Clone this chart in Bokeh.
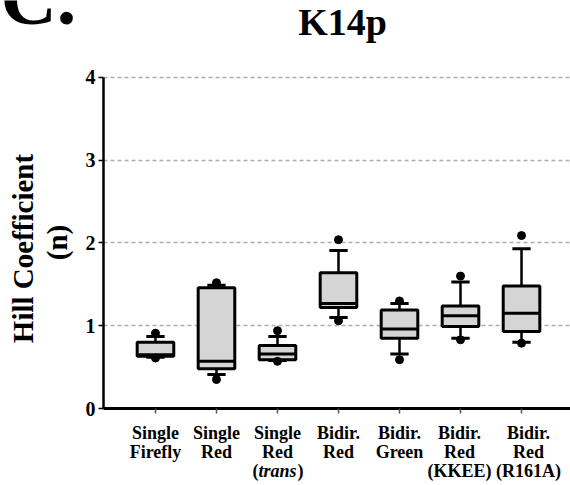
import math
from bokeh.plotting import figure
from bokeh.layouts import row, column
from bokeh.models import Label, Range1d, FixedTicker, ColumnDataSource
from bokeh.embed import file_html
from bokeh.resources import INLINE

# ---- data ----
cat_line1 = ["Single", "Single", "Single", "Bidir.", "Bidir.", "Bidir.", "Bidir."]
cat_line2 = ["Firefly", "Red", "Red", "Red", "Green", "Red", "Red"]
cat_line3 = ["", "", "trans", "", "", "(KKEE)", "(R161A)"]
q1 = [0.63, 0.48, 0.59, 1.22, 0.85, 0.99, 0.93]
median = [0.65, 0.57, 0.66, 1.27, 0.96, 1.12, 1.15]
q3 = [0.80, 1.46, 0.76, 1.64, 1.19, 1.24, 1.48]
whisker_low = [0.62, 0.41, 0.58, 1.10, 0.66, 0.85, 0.80]
whisker_high = [0.87, 1.49, 0.87, 1.91, 1.27, 1.53, 1.93]
outlier_low = [0.61, 0.35, 0.57, 1.06, 0.59, 0.83, 0.79]
outlier_high = [0.91, 1.52, 0.94, 2.04, 1.30, 1.60, 2.09]
y_ticks = [0, 1, 2, 3, 4]

FONT = "Liberation Serif"
LW = 78            # width of left text strip
MW = 570 - LW      # width of main plot
MH = 420           # height of main plot
BH = 485 - MH      # height of bottom label strip
xs = list(range(len(q1)))

# ---------------- main plot ----------------
p = figure(width=MW, height=MH, output_backend="svg", toolbar_location=None,
           x_range=Range1d(-0.852, 6.803), y_range=Range1d(0, 4.9305),
           min_border_left=25, min_border_right=0, min_border_top=0,
           min_border_bottom=MH - 408)
p.outline_line_color = None
p.background_fill_color = "white"

p.yaxis.ticker = FixedTicker(ticks=y_ticks)
p.yaxis.bounds = (0, 4)
p.xaxis.ticker = FixedTicker(ticks=xs)
p.xaxis.major_label_overrides = {i: " " for i in xs}
p.xaxis.major_label_text_font_size = "1px"
p.xaxis.major_label_standoff = 0
for ax in (p.xaxis, p.yaxis):
    ax.minor_tick_line_color = None
    ax.axis_line_color = "black"
    ax.major_tick_in = 0
    ax.major_tick_out = 5
    ax.major_tick_line_width = 1.5
p.yaxis.axis_line_width = 2.5
p.xaxis.axis_line_width = 3
p.xaxis.major_tick_line_color = "#555555"
p.yaxis.major_tick_line_color = "black"
p.yaxis.major_label_text_font = FONT
p.yaxis.major_label_text_font_style = "bold"
p.yaxis.major_label_text_font_size = "20px"
p.yaxis.major_label_text_color = "black"
p.yaxis.major_label_standoff = 3

p.xgrid.visible = False
p.ygrid.grid_line_color = "#adadad"
p.ygrid.grid_line_dash = "4 3"
p.ygrid.grid_line_width = 1.3

src = ColumnDataSource(dict(x=xs, q1=q1, med=median, q3=q3, wl=whisker_low,
                            wh=whisker_high, ol=outlier_low, oh=outlier_high,
                            xl=[x - 0.15 for x in xs], xr=[x + 0.15 for x in xs],
                            bl=[x - 0.3 for x in xs], br=[x + 0.3 for x in xs]))

p.segment("x", "q3", "x", "wh", source=src, line_color="black", line_width=2.5)
p.segment("x", "wl", "x", "q1", source=src, line_color="black", line_width=2.5)
p.segment("xl", "wh", "xr", "wh", source=src, line_color="black", line_width=3)
p.segment("xl", "wl", "xr", "wl", source=src, line_color="black", line_width=3)
p.vbar(x="x", width=0.6, bottom="q1", top="q3", source=src,
       fill_color="#d5d5d5", line_color="black", line_width=3)
p.segment("bl", "med", "br", "med", source=src, line_color="black", line_width=3)
p.scatter("x", "oh", source=src, size=8, color="black")
p.scatter("x", "ol", source=src, size=8, color="black")


def lab(fig, text, x, y, size, align="center", baseline="middle", style="bold",
        angle=0, data_x=False, x_offset=0):
    fig.add_layout(Label(x=x, y=y, x_units="data" if data_x else "screen",
                         y_units="screen", text=text, text_font=FONT,
                         text_font_style=style, text_font_size=size,
                         text_align=align, text_baseline=baseline, angle=angle,
                         x_offset=x_offset, text_color="black"))


# title inside the (tall) frame: frame left = 103 px, frame bottom = 408 px
lab(p, "K14p", 342 - 103, 408 - 39 + 18, "38px", baseline="alphabetic")

# ---------------- bottom strip: category labels ----------------
b = figure(width=MW, height=BH, output_backend="svg", toolbar_location=None,
           x_range=p.x_range, y_range=Range1d(0, 1),
           x_axis_type=None, y_axis_type=None,
           min_border_left=25, min_border_right=0, min_border_top=0,
           min_border_bottom=0)
b.outline_line_color = None
b.xgrid.visible = False
b.ygrid.visible = False


def by(y):  # global canvas y -> strip frame y from bottom
    return 485 - y


CS = "18px"
for i in xs:
    off = 7 if i == 6 else (-1 if i == 5 else 0)
    lab(b, cat_line1[i], i, by(432), CS, data_x=True, x_offset=off)
    lab(b, cat_line2[i], i, by(451), CS, data_x=True, x_offset=off)
    if cat_line3[i] == "trans":
        lab(b, "trans", i, by(470), CS, style="bold italic", data_x=True)
        lab(b, "(", i, by(470), CS, align="right", data_x=True, x_offset=-19)
        lab(b, ")", i, by(470), CS, align="left", data_x=True, x_offset=20)
    elif cat_line3[i]:
        lab(b, cat_line3[i], i, by(470), CS, data_x=True, x_offset=off)

# ---------------- left strip: panel letter + y title ----------------
l = figure(width=LW, height=485, output_backend="svg", toolbar_location=None,
           x_range=Range1d(0, 1), y_range=Range1d(0, 1),
           x_axis_type=None, y_axis_type=None,
           min_border_left=0, min_border_right=0, min_border_top=0,
           min_border_bottom=0)
l.outline_line_color = None
l.xgrid.visible = False
l.ygrid.visible = False

lab(l, "C.", 0, 488, "78px", align="left", baseline="alphabetic")
lab(l, "Hill Coefficient", 22, 485 - 248, "29px", baseline="alphabetic",
    angle=math.pi / 2)
lab(l, "(n)", 56, 485 - 242, "29px", baseline="alphabetic", angle=math.pi / 2)

layout = row(l, column(p, b, spacing=0), spacing=0)
open("out.html", "w").write(file_html(layout, INLINE))
